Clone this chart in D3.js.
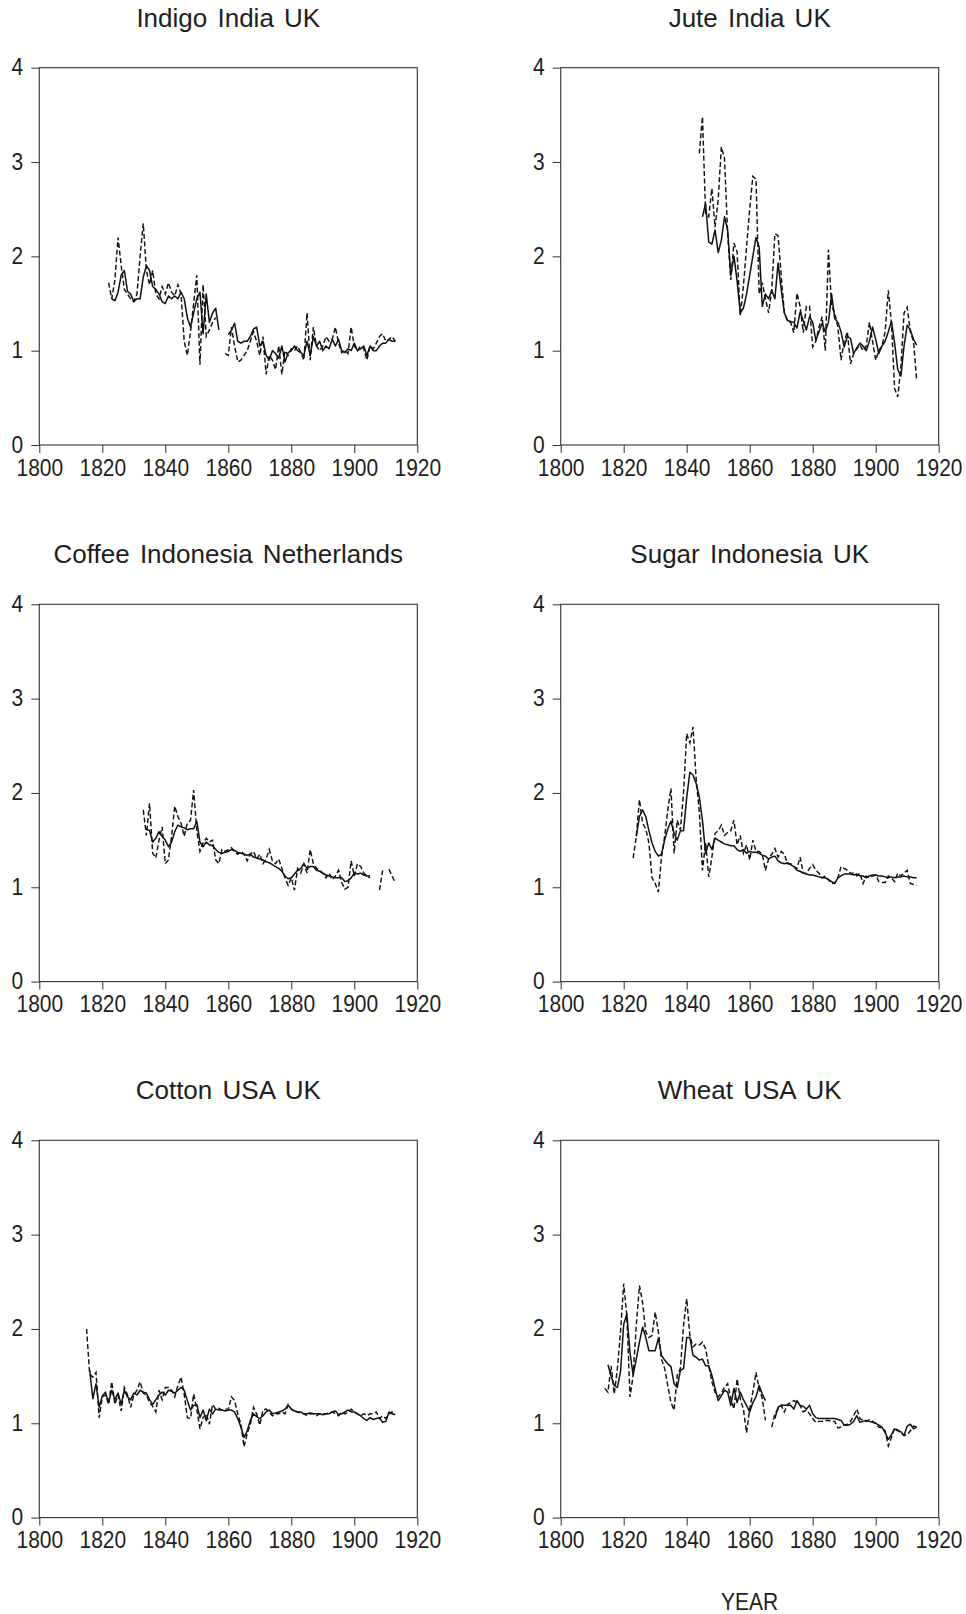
<!DOCTYPE html>
<html>
<head>
<meta charset="utf-8">
<script src="https://cdn.jsdelivr.net/npm/d3@7"></script>
<style>
  body { margin: 0; background: #fff; }
  svg { display: block; }
  text { font-family: "Liberation Sans", Arial, sans-serif; fill: #1e1e1e; }
</style>
</head>
<body>
<svg id="chart" width="966" height="1614"></svg>
<script>
// every series is one value per year, starting in firstYear, one row per decade
const _ = null;
const firstYear = 1810;

const xTicks = [1800, 1820, 1840, 1860, 1880, 1900, 1920];
const yTicks = [0, 1, 2, 3, 4];
const xLabel = 'YEAR';
const titles = ['Indigo India UK', 'Jute India UK', 'Coffee Indonesia Netherlands',
                'Sugar Indonesia UK', 'Cotton USA UK', 'Wheat USA UK'];

const indigoSolid = [
  _, _, _, _, _, _, _, _, _, _,
  _, _, _, 1.55, 1.53, 1.62, 1.80, 1.85, 1.63, 1.60,
  1.52, 1.55, 1.55, 1.78, 1.90, 1.85, 1.68, 1.65, 1.60, 1.52,
  1.50, 1.58, 1.55, 1.58, 1.55, 1.62, 1.55, 1.35, 1.25, 1.40,
  1.55, 1.62, 1.18, 1.60, 1.30, 1.40, 1.45, 1.22, _, _,
  1.17, 1.22, 1.29, 1.10, 1.08, 1.10, 1.10, 1.15, 1.23, 1.25,
  1.05, 1.10, 0.95, 0.90, 1.00, 0.97, 0.92, 1.05, 0.88, 0.98,
  1.00, 1.05, 1.00, 0.98, 0.95, 1.10, 0.95, 1.15, 1.05, 1.10,
  1.00, 1.05, 1.02, 1.12, 1.05, 1.12, 1.00, 0.98, 1.02, 1.00,
  1.08, 1.00, 1.02, 1.05, 0.95, 1.05, 1.00, 1.00, 1.05, 1.08,
  1.08, 1.12, 1.10, 1.10
];
const indigoDashed = [
  _, _, _, _, _, _, _, _, _, _,
  _, _, 1.72, 1.55, 1.75, 2.20, 1.90, 1.65, 1.60, 1.55,
  1.52, 1.60, 2.00, 2.35, 1.85, 1.70, 1.85, 1.60, 1.55, 1.68,
  1.60, 1.72, 1.62, 1.58, 1.70, 1.60, 1.10, 0.95, 1.20, 1.50,
  1.80, 0.85, 1.70, 1.15, 1.22, 1.30, 1.35, _, _, 0.97,
  0.95, 1.25, 1.05, 0.88, 0.90, 0.95, 1.00, 1.10, 1.20, 1.10,
  0.95, 1.15, 0.75, 0.95, 0.90, 0.80, 1.05, 0.75, 1.00, 0.95,
  1.02, 1.00, 1.05, 0.98, 0.90, 1.40, 0.90, 1.25, 1.05, 1.00,
  1.05, 1.15, 1.10, 1.12, 1.25, 1.08, 0.98, 1.00, 0.97, 1.25,
  1.05, 1.00, 1.05, 1.02, 0.90, 1.05, 1.02, 1.08, 1.15, 1.18,
  1.10, 1.12, 1.15, 1.10
];

const juteSolid = [
  _, _, _, _, _, _, _, _, _, _,
  _, _, _, _, _, _, _, _, _, _,
  _, _, _, _, _, _, _, _, _, _,
  _, _, _, _, _, 2.42, 2.56, 2.15, 2.13, 2.28,
  2.04, 2.17, 2.42, 2.28, 1.80, 2.00, 1.74, 1.40, 1.45, 1.60,
  1.80, 2.00, 2.20, 2.10, 1.47, 1.60, 1.55, 1.64, 1.55, 1.93,
  1.65, 1.40, 1.32, 1.31, 1.30, 1.24, 1.41, 1.32, 1.22, 1.36,
  1.30, 1.11, 1.20, 1.29, 1.20, 1.30, 1.60, 1.34, 1.30, 1.20,
  1.04, 1.15, 1.13, 0.97, 1.03, 1.08, 1.05, 1.00, 1.10, 1.25,
  1.12, 0.97, 1.05, 1.10, 1.20, 1.31, 1.08, 0.80, 0.73, 1.05,
  1.27, 1.22, 1.12, 1.06
];
const juteDashed = [
  _, _, _, _, _, _, _, _, _, _,
  _, _, _, _, _, _, _, _, _, _,
  _, _, _, _, _, _, _, _, _, _,
  _, _, _, _, 3.09, 3.48, 2.45, 2.42, 2.72, 2.31,
  2.60, 3.16, 3.04, 2.24, 1.75, 2.14, 2.05, 1.37, 1.68, 2.10,
  2.50, 2.85, 2.82, 1.60, 1.72, 1.55, 1.40, 1.65, 2.24, 2.22,
  1.80, 1.40, 1.32, 1.30, 1.19, 1.61, 1.47, 1.19, 1.47, 1.47,
  1.04, 1.10, 1.25, 1.36, 1.00, 2.07, 1.47, 1.40, 1.25, 0.90,
  1.10, 1.20, 0.86, 0.97, 1.02, 1.06, 1.00, 1.05, 1.30, 1.10,
  0.90, 1.00, 1.05, 1.20, 1.64, 1.30, 0.60, 0.51, 0.83, 1.40,
  1.46, 1.20, 1.10, 0.69
];

const coffeeSolid = [
  _, _, _, _, _, _, _, _, _, _,
  _, _, _, _, _, _, _, _, _, _,
  _, _, _, _, 1.62, 1.60, 1.48, 1.52, 1.59, 1.54,
  1.50, 1.43, 1.48, 1.59, 1.66, 1.64, 1.63, 1.61, 1.62, 1.62,
  1.70, 1.48, 1.43, 1.48, 1.45, 1.44, 1.40, 1.37, 1.36, 1.37,
  1.38, 1.40, 1.39, 1.37, 1.36, 1.35, 1.34, 1.35, 1.32, 1.31,
  1.30, 1.29, 1.27, 1.26, 1.24, 1.22, 1.20, 1.17, 1.12, 1.09,
  1.10, 1.14, 1.18, 1.20, 1.25, 1.20, 1.22, 1.22, 1.18, 1.17,
  1.15, 1.13, 1.12, 1.11, 1.10, 1.10, 1.10, 1.06, 1.07, 1.10,
  1.15, 1.14, 1.15, 1.13, 1.12, 1.12, _, _, _, _,
  _, _, _, _
];
const coffeeDashed = [
  _, _, _, _, _, _, _, _, _, _,
  _, _, _, _, _, _, _, _, _, _,
  _, _, _, 1.82, 1.55, 1.89, 1.36, 1.31, 1.50, 1.64,
  1.25, 1.29, 1.54, 1.86, 1.75, 1.68, 1.54, 1.68, 1.71, 2.03,
  1.60, 1.38, 1.47, 1.52, 1.48, 1.50, 1.29, 1.25, 1.40, 1.38,
  1.40, 1.42, 1.38, 1.35, 1.38, 1.35, 1.28, 1.35, 1.38, 1.30,
  1.35, 1.25, 1.30, 1.40, 1.28, 1.25, 1.30, 1.20, 1.10, 1.02,
  1.10, 0.97, 1.20, 1.15, 1.25, 1.15, 1.40, 1.25, 1.20, 1.18,
  1.15, 1.10, 1.15, 1.08, 1.12, 1.18, 1.05, 0.98, 1.00, 1.28,
  1.12, 1.25, 1.22, 1.15, 1.12, 1.10, _, _, 0.97, 1.18,
  _, 1.19, 1.12, 1.05
];

const sugarSolid = [
  _, _, _, _, _, _, _, _, _, _,
  _, _, _, _, 1.54, 1.75, 1.82, 1.75, 1.60, 1.47,
  1.38, 1.33, 1.35, 1.50, 1.62, 1.70, 1.57, 1.50, 1.60, 1.60,
  1.95, 2.22, 2.19, 2.10, 1.96, 1.71, 1.36, 1.47, 1.40, 1.52,
  1.50, 1.48, 1.46, 1.45, 1.44, 1.44, 1.40, 1.38, 1.40, 1.36,
  1.38, 1.37, 1.37, 1.36, 1.34, 1.33, 1.30, 1.32, 1.33, 1.28,
  1.26, 1.25, 1.26, 1.24, 1.22, 1.18, 1.17, 1.15, 1.14, 1.13,
  1.13, 1.12, 1.11, 1.10, 1.10, 1.08, 1.06, 1.04, 1.10, 1.12,
  1.14, 1.14, 1.14, 1.13, 1.14, 1.12, 1.12, 1.10, 1.12, 1.13,
  1.13, 1.12, 1.12, 1.11, 1.10, 1.11, 1.10, 1.11, 1.11, 1.12,
  1.11, 1.11, 1.10, 1.10
];
const sugarDashed = [
  _, _, _, _, _, _, _, _, _, _,
  _, _, _, 1.31, 1.54, 1.93, 1.68, 1.62, 1.47, 1.10,
  1.04, 0.95, 1.32, 1.54, 1.82, 2.05, 1.36, 1.71, 1.61, 2.00,
  2.63, 2.53, 2.70, 2.15, 1.80, 1.18, 1.47, 1.11, 1.32, 1.57,
  1.60, 1.66, 1.55, 1.58, 1.60, 1.71, 1.45, 1.55, 1.36, 1.45,
  1.29, 1.50, 1.38, 1.38, 1.35, 1.18, 1.30, 1.35, 1.41, 1.32,
  1.38, 1.35, 1.25, 1.25, 1.22, 1.20, 1.32, 1.15, 1.15, 1.20,
  1.24, 1.18, 1.15, 1.10, 1.12, 1.08, 1.04, 1.05, 1.10, 1.22,
  1.20, 1.18, 1.15, 1.15, 1.12, 1.15, 1.04, 1.12, 1.10, 1.12,
  1.13, 1.06, 1.05, 1.05, 1.12, 1.10, 1.06, 1.15, 1.12, 1.15,
  1.18, 1.04, 1.03, 1.02
];

const cottonSolid = [
  _, _, _, _, _, _, 1.56, 1.26, 1.42, 1.17,
  1.29, 1.33, 1.22, 1.35, 1.25, 1.32, 1.20, 1.35, 1.28, 1.25,
  1.32, 1.30, 1.35, 1.33, 1.32, 1.25, 1.20, 1.25, 1.30, 1.33,
  1.30, 1.35, 1.34, 1.32, 1.35, 1.38, 1.35, 1.24, 1.14, 1.19,
  1.20, 1.06, 1.14, 1.03, 1.15, 1.10, 1.15, 1.14, 1.14, 1.13,
  1.14, 1.14, 1.12, 1.05, 0.96, 0.85, 0.92, 1.03, 1.10, 1.07,
  1.05, 1.08, 1.12, 1.14, 1.10, 1.11, 1.12, 1.13, 1.15, 1.19,
  1.15, 1.13, 1.12, 1.12, 1.10, 1.10, 1.11, 1.10, 1.10, 1.10,
  1.09, 1.10, 1.10, 1.12, 1.13, 1.09, 1.10, 1.12, 1.14, 1.12,
  1.12, 1.10, 1.08, 1.05, 1.03, 1.06, 1.04, 1.05, 1.06, 1.01,
  1.02, 1.12, 1.10, 1.09
];
const cottonDashed = [
  _, _, _, _, _, 2.00, 1.52, 1.49, 1.54, 1.06,
  1.28, 1.30, 1.20, 1.44, 1.20, 1.30, 1.13, 1.38, 1.30, 1.17,
  1.30, 1.35, 1.44, 1.32, 1.30, 1.22, 1.18, 1.12, 1.35, 1.25,
  1.38, 1.38, 1.35, 1.28, 1.40, 1.49, 1.31, 1.06, 1.05, 1.31,
  1.15, 0.94, 1.06, 1.10, 0.99, 1.20, 1.15, 1.16, 1.14, 1.15,
  1.15, 1.28, 1.24, 1.10, 0.99, 0.75, 0.89, 0.99, 1.17, 1.10,
  0.98, 1.14, 1.15, 1.12, 1.08, 1.10, 1.10, 1.12, 1.10, 1.20,
  1.15, 1.13, 1.12, 1.11, 1.10, 1.08, 1.10, 1.10, 1.08, 1.10,
  1.10, 1.10, 1.11, 1.12, 1.10, 1.08, 1.12, 1.10, 1.12, 1.15,
  1.12, 1.10, 1.08, 1.10, 1.08, 1.10, 1.10, 1.12, 1.05, 1.08,
  1.05, 1.10, 1.12, 1.10
];

const wheatSolid = [
  _, _, _, _, _, 1.62, 1.50, 1.40, 1.38, 1.55,
  2.05, 2.16, 1.75, 1.51, 1.68, 1.86, 2.02, 1.91, 1.77, 1.77,
  1.77, 1.90, 1.72, 1.67, 1.63, 1.60, 1.42, 1.38, 1.56, 1.58,
  1.91, 1.91, 1.72, 1.70, 1.67, 1.68, 1.61, 1.61, 1.51, 1.37,
  1.24, 1.29, 1.35, 1.33, 1.19, 1.37, 1.22, 1.33, 1.25, 1.19,
  1.12, 1.22, 1.28, 1.40, 1.31, 1.24, _, _, 1.05, 1.17,
  1.19, 1.19, 1.19, 1.19, 1.15, 1.24, 1.19, 1.18, 1.15, 1.19,
  1.10, 1.06, 1.05, 1.05, 1.05, 1.05, 1.05, 1.05, 1.04, 1.03,
  0.98, 0.98, 0.99, 1.02, 1.08, 1.01, 1.02, 1.03, 1.02, 1.01,
  1.00, 0.98, 0.96, 0.90, 0.83, 0.88, 0.94, 0.92, 0.91, 0.87,
  0.97, 0.99, 0.94, 0.96
];
const wheatDashed = [
  _, _, _, _, 1.37, 1.33, 1.61, 1.31, 1.58, 1.97,
  2.48, 2.14, 1.28, 1.51, 2.04, 2.46, 2.28, 1.97, 1.91, 1.93,
  2.18, 1.97, 1.68, 1.58, 1.40, 1.22, 1.14, 1.51, 1.58, 2.04,
  2.32, 1.93, 1.81, 1.84, 1.83, 1.86, 1.79, 1.61, 1.44, 1.33,
  1.28, 1.32, 1.38, 1.42, 1.26, 1.15, 1.47, 1.26, 1.15, 0.90,
  1.15, 1.33, 1.54, 1.37, 1.26, 1.03, _, 0.96, 1.10, 1.15,
  1.19, 1.12, 1.20, 1.22, 1.24, 1.22, 1.19, 1.12, 1.14, 1.10,
  1.05, 1.01, 1.02, 1.02, 1.03, 1.03, 1.02, 1.02, 0.95, 0.96,
  0.98, 0.99, 1.02, 1.08, 1.15, 1.05, 1.03, 1.02, 1.04, 1.02,
  1.00, 0.96, 0.95, 0.92, 0.76, 0.85, 0.95, 0.93, 0.90, 0.87,
  0.88, 0.92, 0.97, 0.96
];

const panels = [
  { title: titles[0], solid: indigoSolid, dashed: indigoDashed },
  { title: titles[1], solid: juteSolid, dashed: juteDashed },
  { title: titles[2], solid: coffeeSolid, dashed: coffeeDashed },
  { title: titles[3], solid: sugarSolid, dashed: sugarDashed },
  { title: titles[4], solid: cottonSolid, dashed: cottonDashed },
  { title: titles[5], solid: wheatSolid, dashed: wheatDashed }
];

// layout of the 3x2 grid (plot boxes only)
const plotW = 378, plotH = 377.3;
const colX = [39.3, 560.7];
const rowY = [67.7, 604.3, 1140.3];
const tickFont = 21, stretch = 1.12;   // the labels in the picture are a bit tall

const svg = d3.select('#chart');
const x = d3.scaleLinear().domain([1800, 1920]).range([0, plotW]);
const y = d3.scaleLinear().domain([0, 4]).range([plotH, 0]);

const line = d3.line()
  .defined(d => d[1] !== null)
  .x(d => x(d[0]))
  .y(d => y(d[1]));

const toPoints = values => values.map((v, i) => [firstYear + i, v]);

function drawPanel(p, i) {
  const g = svg.append('g')
    .attr('transform', `translate(${colX[i % 2]},${rowY[Math.floor(i / 2)]})`);

  // bottom axis
  const gx = g.append('g')
    .attr('transform', `translate(0,${plotH})`)
    .call(d3.axisBottom(x).tickValues(xTicks).tickFormat(d3.format('d'))
      .tickSize(8).tickSizeOuter(0));
  gx.select('.domain').remove();
  gx.selectAll('text')
    .attr('y', null).attr('dy', null)
    .attr('transform', `translate(0,30.5) scale(1,${stretch})`);

  // left axis
  const gy = g.append('g')
    .call(d3.axisLeft(y).tickValues(yTicks).tickFormat(d3.format('d'))
      .tickSize(8).tickSizeOuter(0));
  gy.select('.domain').remove();
  gy.selectAll('text')
    .attr('x', null).attr('dy', null)
    .attr('transform', `translate(-16,7) scale(1,${stretch})`);

  [gx, gy].forEach(a => {
    a.attr('font-size', tickFont).attr('font-family', null);
    a.selectAll('line').attr('stroke', '#333');
  });

  // frame
  g.append('rect')
    .attr('width', plotW).attr('height', plotH)
    .attr('fill', 'none').attr('stroke', '#333').attr('stroke-width', 1.1);

  g.append('path')
    .attr('d', line(toPoints(p.dashed)))
    .attr('fill', 'none').attr('stroke', '#111')
    .attr('stroke-width', 1.45).attr('stroke-dasharray', '5,2.6');

  g.append('path')
    .attr('d', line(toPoints(p.solid)))
    .attr('fill', 'none').attr('stroke', '#111')
    .attr('stroke-width', 1.5).attr('stroke-linejoin', 'round');

  g.append('text')
    .attr('x', plotW / 2).attr('y', -41)
    .attr('text-anchor', 'middle')
    .attr('font-size', 26).attr('word-spacing', 3)
    .text(p.title);
}

panels.forEach(drawPanel);

// x axis caption under the last panel
svg.append('text')
  .attr('text-anchor', 'middle')
  .attr('font-size', tickFont)
  .attr('transform', `translate(${colX[1] + plotW / 2},${rowY[2] + plotH + 92}) scale(1,${stretch})`)
  .text(xLabel);
</script>
</body>
</html>
